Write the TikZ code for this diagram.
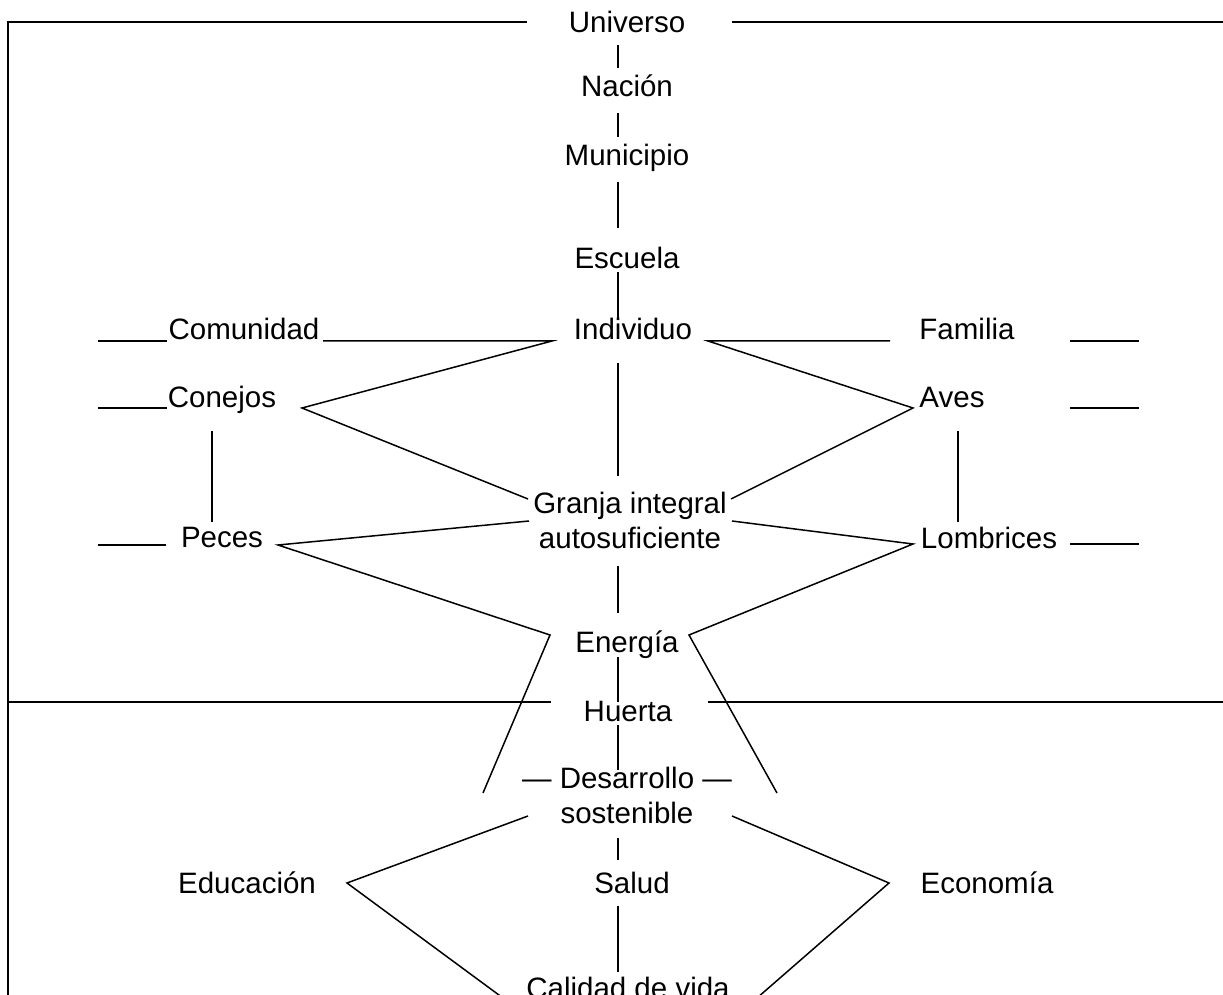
\documentclass[tikz,border=0pt]{standalone}
\usepackage{fontspec}
\setmainfont{Liberation Sans}
\usetikzlibrary{calc}
\tikzset{
  lbl/.style={inner sep=0pt, anchor=base, align=center, font=\fontsize{14.75pt}{17.5pt}\selectfont},
  ln/.style={line width=.75pt},
  frame/.style={line width=1pt},
}
\begin{document}
\begin{tikzpicture}[x=.5pt,y=-.5pt]
\useasboundingbox (0,0) rectangle (1223,995);
% labels (base = baseline of last line)
\node[lbl] (universo) at (627,33) {Universo};
\node[lbl] (nacion) at (627,97) {Nación};
\node[lbl] (municipio) at (627,166) {Municipio};
\node[lbl] (escuela) at (627,269) {Escuela};
\node[lbl] (individuo) at (633,340) {Individuo};
\node[lbl] (comunidad) at (244,340) {Comunidad};
\node[lbl] (familia) at (967,340) {Familia};
\node[lbl] (conejos) at (222,408) {Conejos};
\node[lbl] (aves) at (952,408) {Aves};
\node[lbl] (granja) at (630,548) {Granja integral\\autosuficiente};
\node[lbl] (peces) at (222,547) {Peces};
\node[lbl] (lombrices) at (989,548) {Lombrices};
\node[lbl] (energia) at (627,652) {Energía};
\node[lbl] (huerta) at (628,721) {Huerta};
\node[lbl] (desarrollo) at (627,823) {— Desarrollo —\\sostenible};
\node[lbl] (educacion) at (247,893) {Educación};
\node[lbl] (salud) at (632,893) {Salud};
\node[lbl] (economia) at (987,893) {Economía};
\node[lbl] (calidad) at (628,998) {Calidad de vida};
\coordinate (spine) at (618,0);
\coordinate (frameBL) at (8,995);
\coordinate (frameTR) at (1223,22);
\coordinate (midL) at (8,702);
\coordinate (midR) at (1223,702);
% frame
\draw[frame] (frameBL) -- (frameBL |- frameTR) -- ($(universo.base)+(-100,-11)$);
\draw[frame] ($(universo.base)+(105,-11)$) -- (frameTR);
\draw[ln] (midL) -- ($(huerta.base)+(-77,-19)$);
\draw[ln] ($(huerta.base)+(80,-19)$) -- (midR);
% spine
\draw[ln] ($(spine |- universo.base)+(0,12)$) -- ($(spine |- nacion.base)+(0,-29)$);
\draw[ln] ($(spine |- nacion.base)+(0,16)$) -- ($(spine |- municipio.base)+(0,-29)$);
\draw[ln] ($(spine |- municipio.base)+(0,16)$) -- ($(spine |- escuela.base)+(0,-41)$);
\draw[ln] ($(spine |- escuela.base)+(0,3)$) -- ($(spine |- individuo.base)+(0,-22)$);
\draw[ln] ($(spine |- individuo.base)+(0,23)$) -- ($(spine |- granja.base)+(0,-72)$);
\draw[ln] ($(spine |- granja.base)+(0,18)$) -- ($(spine |- energia.base)+(0,-39)$);
\draw[ln] ($(spine |- energia.base)+(0,5)$) -- ($(spine |- huerta.base)+(0,-19)$);
\draw[ln] ($(spine |- huerta.base)+(0,4)$) -- ($(spine |- desarrollo.base)+(0,-53)$);
\draw[ln] ($(spine |- desarrollo.base)+(0,15)$) -- ($(spine |- salud.base)+(0,-33)$);
\draw[ln] ($(spine |- salud.base)+(0,13)$) -- ($(spine |- calidad.base)+(0,-26)$);
% upper part
\draw[ln] ($(comunidad.base)+(-146,1)$) -- ($(comunidad.base)+(-77,1)$);
\draw[ln] ($(comunidad.base)+(79,1)$) -- ($(individuo.base)+(-81,1)$)
  -- ($(conejos.base)+(80,0)$) -- ($(granja.base)+(-102,-49)$);
\draw[ln] ($(familia.base)+(-77,1)$) -- ($(individuo.base)+(75,1)$)
  -- ($(aves.base)+(-39,0)$) -- ($(granja.base)+(101,-49)$);
\draw[ln] ($(familia.base)+(103,1)$) -- ($(familia.base)+(172,1)$);
\draw[ln] ($(conejos.base)+(-124,0)$) -- ($(conejos.base)+(-55,0)$);
\draw[ln] ($(aves.base)+(118,0)$) -- ($(aves.base)+(187,0)$);
\draw[ln] ($(conejos.base)+(-10,23)$) -- ($(peces.base)+(-10,-25)$);
\draw[ln] ($(aves.base)+(6,23)$) -- ($(lombrices.base)+(-31,-26)$);
\draw[ln] ($(peces.base)+(-124,-2)$) -- ($(peces.base)+(-56,-2)$);
\draw[ln] ($(lombrices.base)+(81,-4)$) -- ($(lombrices.base)+(150,-4)$);
% lower part
\draw[ln] ($(granja.base)+(-101,-27)$) -- ($(peces.base)+(56,-2)$)
  -- ($(energia.base)+(-77,-17)$) -- ($(desarrollo.base)+(-144,-30)$);
\draw[ln] ($(granja.base)+(102,-27)$) -- ($(lombrices.base)+(-76,-4)$)
  -- ($(energia.base)+(62,-17)$) -- ($(desarrollo.base)+(150,-30)$);
\draw[ln] ($(desarrollo.base)+(-99,-7)$) -- ($(educacion.base)+(100,-10)$)
  -- ($(calidad.base)+(-125,0)$);
\draw[ln] ($(desarrollo.base)+(105,-7)$) -- ($(economia.base)+(-98,-10)$)
  -- ($(calidad.base)+(129,0)$);
\end{tikzpicture}
\end{document}
